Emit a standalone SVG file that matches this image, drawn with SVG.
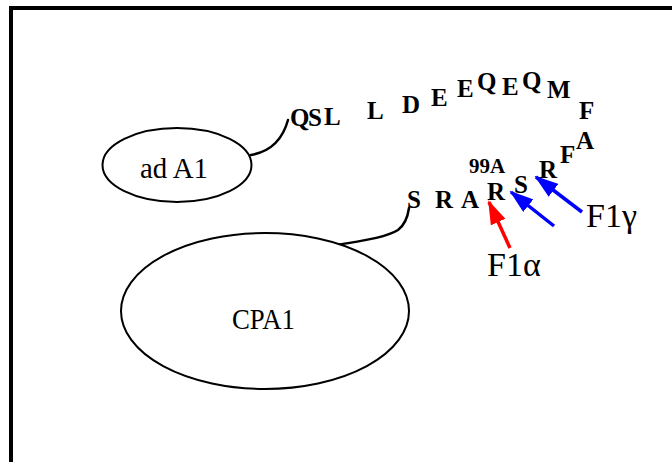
<svg xmlns="http://www.w3.org/2000/svg" width="672" height="462" viewBox="0 0 672 462">
  <defs>
    <marker id="headRed" markerUnits="userSpaceOnUse" markerWidth="24" markerHeight="16" refX="22" refY="8" orient="auto">
      <path d="M0,0 L24,8 L0,16 Z" fill="#ff0000"/>
    </marker>
    <marker id="headBlue" markerUnits="userSpaceOnUse" markerWidth="24" markerHeight="16" refX="22" refY="8" orient="auto">
      <path d="M0,0 L24,8 L0,16 Z" fill="#0000ff"/>
    </marker>
  </defs>
  <style>
    .node { fill: #ffffff; stroke: #000000; stroke-width: 2; }
    .label { font-family: "Liberation Serif", "Times New Roman", serif; font-size: 30px; fill: #000000; }
    .aa { font-family: "Liberation Serif", "Times New Roman", serif; font-weight: bold; font-size: 25px; fill: #000000; }
    .num { font-family: "Liberation Serif", "Times New Roman", serif; font-weight: bold; font-size: 21px; fill: #000000; }
    .site { font-family: "Liberation Serif", "Times New Roman", serif; font-size: 34px; fill: #000000; }
    .link { fill: none; stroke: #000000; stroke-width: 2.5; stroke-linecap: round; }
    .cut-red { stroke: #ff0000; stroke-width: 3.5; marker-end: url(#headRed); }
    .cut-blue { stroke: #0000ff; stroke-width: 3.5; marker-end: url(#headBlue); }
  </style>

  <rect x="0" y="0" width="672" height="462" fill="#ffffff"/>
  <!-- frame -->
  <rect x="11" y="8" width="700" height="500" fill="none" stroke="#000000" stroke-width="4"/>

  <!-- tethers from the domains to the peptide chain, and cleavage arrows -->
  <g id="connectors">
    <path class="link" d="M251,155 C268,152 282,142 288,120"/>
    <path class="link" d="M337,245 C360,241 385,238 398,230 C406,224 408,215 409,208" stroke-width="3"/>
    <line class="cut-red" x1="510" y1="248" x2="489" y2="202"/>
    <line class="cut-blue" x1="554" y1="226" x2="511" y2="192"/>
    <line class="cut-blue" x1="582" y1="212" x2="536" y2="177"/>
  </g>

  <g id="adA1">
    <ellipse class="node" cx="177" cy="165" rx="74.5" ry="37"/>
    <text class="label" x="140" y="178" textLength="68" lengthAdjust="spacingAndGlyphs">ad A1</text>
  </g>

  <g id="CPA1">
    <ellipse class="node" cx="265" cy="311" rx="144" ry="78"/>
    <text class="label" x="232" y="329" textLength="63" lengthAdjust="spacingAndGlyphs">CPA1</text>
  </g>

  <!-- peptide sequence -->
  <g id="peptide">
    <text class="aa" x="290" y="126">Q</text>
    <text class="aa" x="308" y="126">S</text>
    <text class="aa" x="324" y="125">L</text>
    <text class="aa" x="367" y="119">L</text>
    <text class="aa" x="402" y="113">D</text>
    <text class="aa" x="431" y="106">E</text>
    <text class="aa" x="457" y="97">E</text>
    <text class="aa" x="477" y="90">Q</text>
    <text class="aa" x="502" y="95">E</text>
    <text class="aa" x="522" y="89">Q</text>
    <text class="aa" x="547" y="98">M</text>
    <text class="aa" x="579" y="119">F</text>
    <text class="aa" x="576" y="149">A</text>
    <text class="aa" x="560" y="163">F</text>
    <text class="aa" x="539" y="178">R</text>
    <text class="aa" x="514" y="193">S</text>
    <text class="aa" x="487" y="200">R</text>
    <text class="aa" x="461" y="208">A</text>
    <text class="aa" x="435" y="208">R</text>
    <text class="aa" x="407" y="208">S</text>
    <text class="num" x="469" y="173">99A</text>
  </g>

  <g id="sites">
    <text class="site" x="487" y="276">F1α</text>
    <text class="site" x="586" y="227">F1γ</text>
  </g>
</svg>
